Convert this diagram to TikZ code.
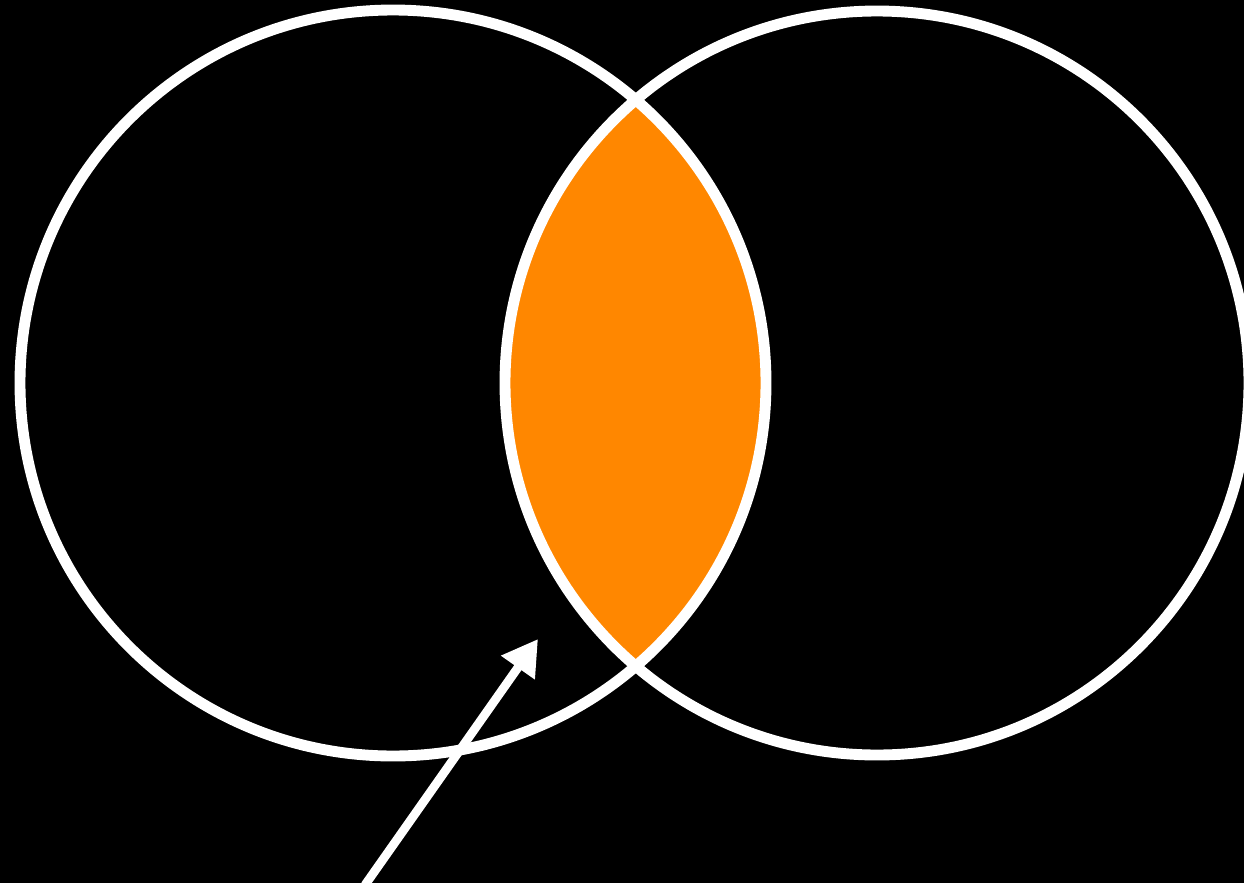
\documentclass[tikz,border=0pt]{standalone}
\usetikzlibrary{arrows.meta}
\definecolor{lensorange}{RGB}{255,135,0}
\begin{document}
\begin{tikzpicture}[
    x=0.02cm, y=-0.02cm,
    setline/.style={draw=white, line width=6.2pt},
    pointer/.style={draw=white, line width=5pt, -{Triangle[length=0.7cm, width=0.78cm]}}
]

% ============================================
% FONDO
% ============================================
\fill[black] (0,0) rectangle (1244,883);
\useasboundingbox (0,0) rectangle (1244,883);

% Centros de los conjuntos
\coordinate (leftc) at (393,383);
\coordinate (rightc) at (877,383);

% ============================================
% INTERSECCIÓN (naranja)
% ============================================
\begin{scope}
  \clip (leftc) circle (373);
  \fill[lensorange] (rightc) circle (372);
\end{scope}

% ============================================
% CONJUNTOS
% ============================================
\draw[setline] (leftc) circle (373);
\draw[setline] (rightc) circle (372);

% ============================================
% FLECHA
% ============================================
\coordinate (tail) at (365,885);
\coordinate (tip) at (538,639);
\draw[pointer] (tail) -- (tip);

\end{tikzpicture}
\end{document}
